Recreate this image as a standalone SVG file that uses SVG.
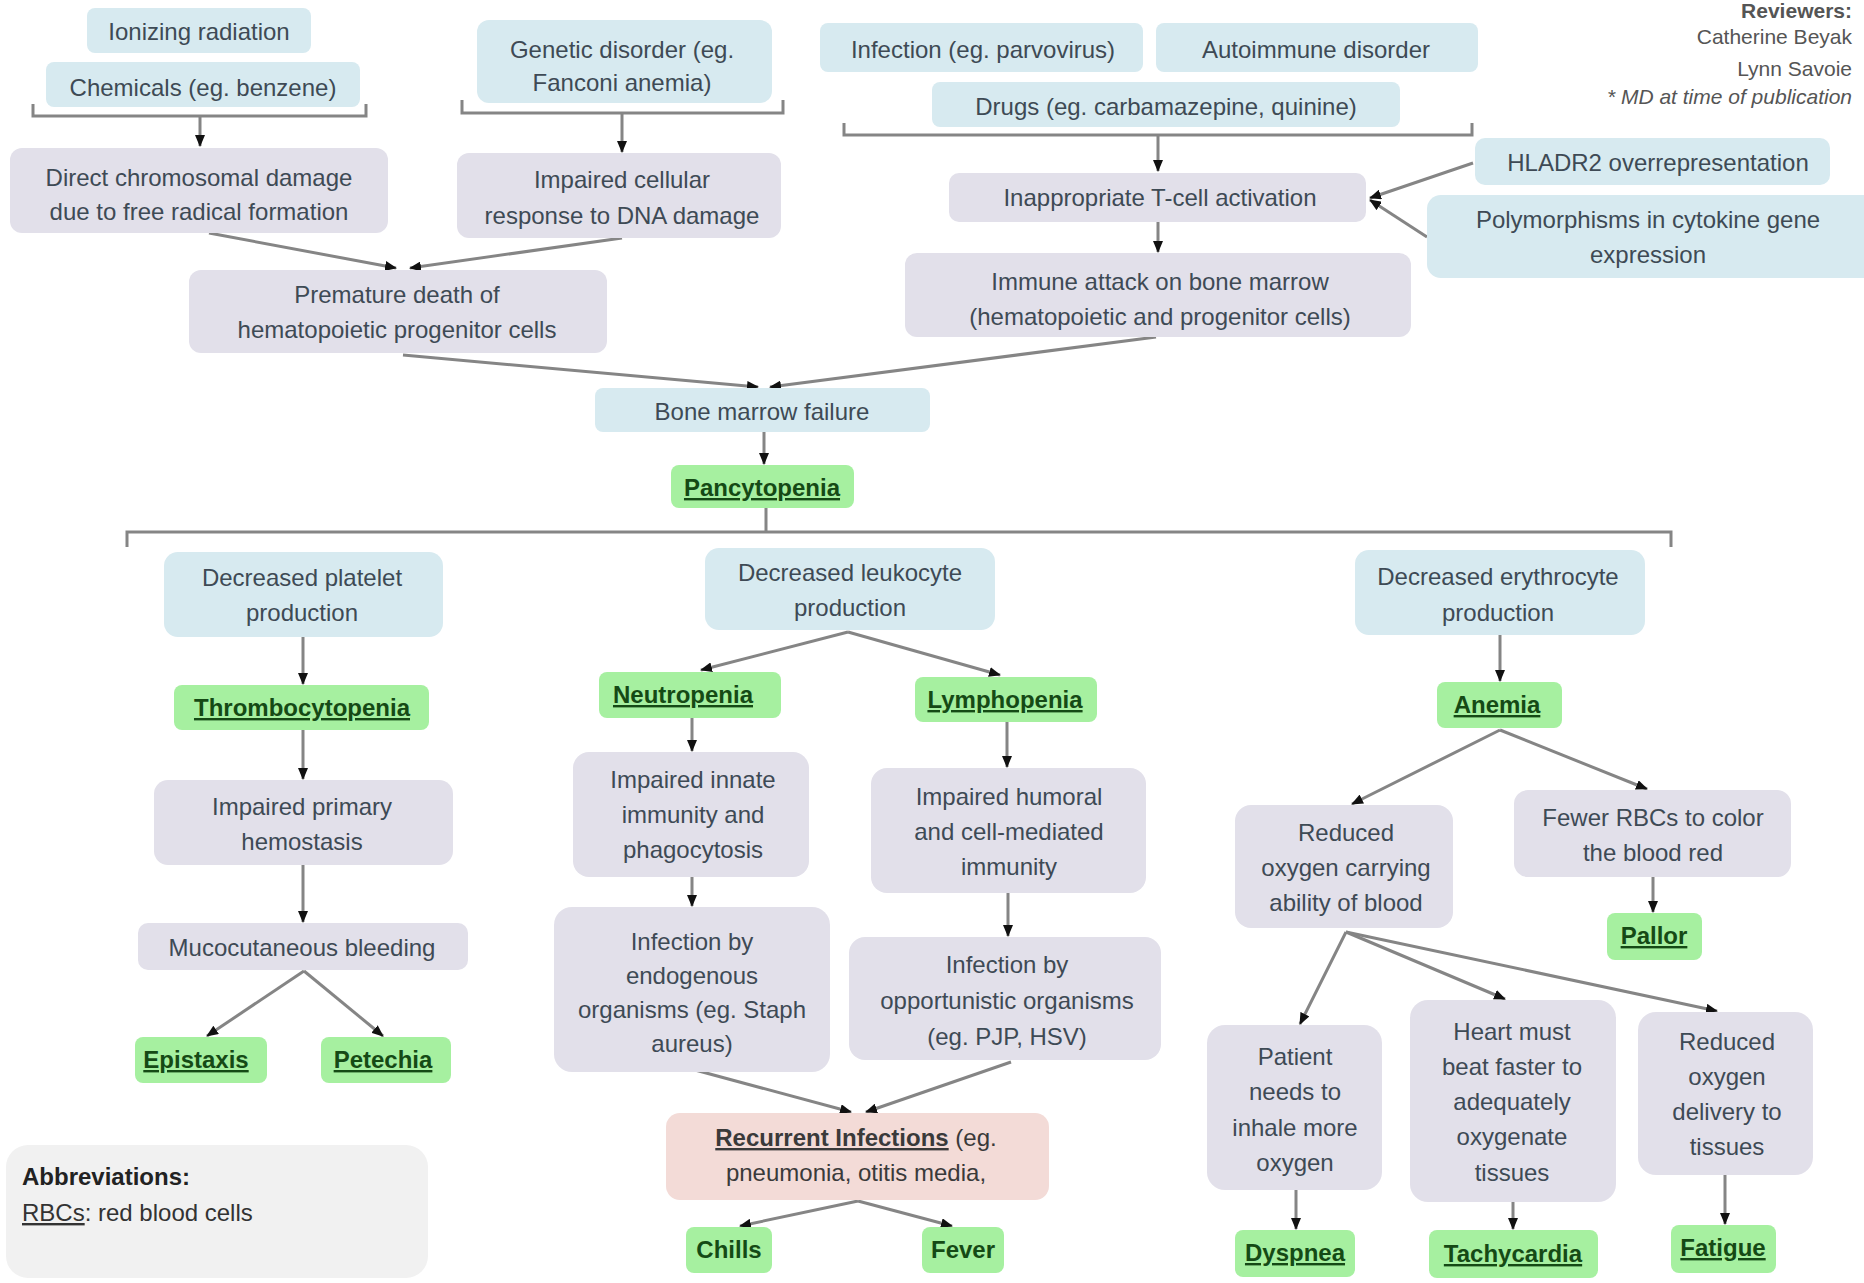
<svg xmlns="http://www.w3.org/2000/svg" width="1864" height="1283" viewBox="0 0 1864 1283">
<style>
text{font-family:"Liberation Sans",Arial,sans-serif;font-size:24px;text-anchor:middle;fill:#3e4a55}
.b rect{fill:#d7eaf0}
.p rect{fill:#e2e0ea}
.g rect{fill:#a6f0a0}
.k rect{fill:#f3dbd7}
.g text{font-weight:bold;fill:#154a15;text-decoration:underline}
.g text.nu{text-decoration:none}
.conn path{fill:none;stroke:#858585;stroke-width:3}
.conn .a{marker-end:url(#ah)}
.rev{font-size:21px;text-anchor:end;fill:#555}
</style>
<defs>
<marker id="ah" markerUnits="userSpaceOnUse" markerWidth="12" markerHeight="10" refX="11" refY="5" orient="auto">
<path d="M0,0 L12,5 L0,10 z" fill="#111"/>
</marker>
</defs>
<rect width="1864" height="1283" fill="#ffffff"/>

<g id="reviewers">
<text class="rev" x="1852" y="18" font-weight="bold">Reviewers:</text>
<text class="rev" x="1852" y="44">Catherine Beyak</text>
<text class="rev" x="1852" y="76">Lynn Savoie</text>
<text class="rev" x="1852" y="104" font-style="italic">* MD at time of publication</text>
</g>

<g class="conn" id="connectors">
<path d="M33 104 V116 H366 V104"/>
<path class="a" d="M200 116 V146"/>
<path d="M462 100 V113 H783 V100"/>
<path class="a" d="M622 113 V152"/>
<path d="M844 123 V135 H1472 V123"/>
<path class="a" d="M1158 135 V171"/>
<path class="a" d="M209 233 L396 268"/>
<path class="a" d="M622 238 L410 268"/>
<path class="a" d="M1473 163 L1370 198"/>
<path class="a" d="M1427 237 L1370 200"/>
<path class="a" d="M1158 222 V252"/>
<path class="a" d="M403 355 L758 387"/>
<path class="a" d="M1156 337 L770 387"/>
<path class="a" d="M764 432 V464"/>
<path d="M127 547 V532 H1671 V547"/>
<path d="M766 508 V532"/>
<path class="a" d="M303 637 V684"/>
<path class="a" d="M303 730 V779"/>
<path class="a" d="M303 865 V922"/>
<path class="a" d="M304 971 L207 1036"/>
<path class="a" d="M304 971 L383 1036"/>
<path class="a" d="M848 632 L701 670"/>
<path class="a" d="M848 632 L1000 675"/>
<path class="a" d="M692 718 V751"/>
<path class="a" d="M1007 722 V767"/>
<path class="a" d="M692 877 V906"/>
<path class="a" d="M1008 893 V936"/>
<path class="a" d="M695 1070 L851 1112"/>
<path class="a" d="M1011 1062 L866 1112"/>
<path class="a" d="M858 1201 L740 1226"/>
<path class="a" d="M858 1201 L952 1226"/>
<path class="a" d="M1500 635 V681"/>
<path class="a" d="M1500 730 L1352 804"/>
<path class="a" d="M1500 730 L1647 789"/>
<path class="a" d="M1653 877 V912"/>
<path class="a" d="M1346 932 L1300 1024"/>
<path class="a" d="M1346 932 L1505 999"/>
<path class="a" d="M1346 932 L1717 1011"/>
<path class="a" d="M1296 1190 V1229"/>
<path class="a" d="M1513 1202 V1229"/>
<path class="a" d="M1725 1175 V1224"/>
</g>

<g id="n1" class="b"><rect x="87" y="8" width="224" height="45" rx="8"/><text x="199" y="40">Ionizing radiation</text></g>
<g id="n2" class="b"><rect x="46" y="62" width="314" height="45" rx="8"/><text x="203" y="96">Chemicals (eg. benzene)</text></g>
<g id="n3" class="p"><rect x="10" y="148" width="378" height="85" rx="12"/><text x="199" y="186">Direct chromosomal damage</text><text x="199" y="220">due to free radical formation</text></g>
<g id="n4" class="b"><rect x="477" y="20" width="295" height="83" rx="12"/><text x="622" y="58">Genetic disorder (eg.</text><text x="622" y="91">Fanconi anemia)</text></g>
<g id="n5" class="p"><rect x="457" y="153" width="324" height="85" rx="12"/><text x="622" y="188">Impaired cellular</text><text x="622" y="224">response to DNA damage</text></g>
<g id="n6" class="p"><rect x="189" y="270" width="418" height="83" rx="12"/><text x="397" y="303">Premature death of</text><text x="397" y="338">hematopoietic progenitor cells</text></g>
<g id="n7" class="b"><rect x="820" y="23" width="323" height="49" rx="8"/><text x="983" y="58">Infection (eg. parvovirus)</text></g>
<g id="n8" class="b"><rect x="1156" y="23" width="322" height="49" rx="8"/><text x="1316" y="58">Autoimmune disorder</text></g>
<g id="n9" class="b"><rect x="932" y="82" width="468" height="45" rx="8"/><text x="1166" y="115">Drugs (eg. carbamazepine, quinine)</text></g>
<g id="n10" class="p"><rect x="949" y="173" width="417" height="49" rx="10"/><text x="1160" y="206">Inappropriate T-cell activation</text></g>
<g id="n11" class="b"><rect x="1475" y="138" width="355" height="47" rx="10"/><text x="1658" y="171">HLADR2 overrepresentation</text></g>
<g id="n12" class="b"><rect x="1427" y="195" width="450" height="83" rx="14"/><text x="1648" y="228">Polymorphisms in cytokine gene</text><text x="1648" y="263">expression</text></g>
<g id="n13" class="p"><rect x="905" y="253" width="506" height="84" rx="12"/><text x="1160" y="290">Immune attack on bone marrow</text><text x="1160" y="325">(hematopoietic and progenitor cells)</text></g>
<g id="n14" class="b"><rect x="595" y="388" width="335" height="44" rx="8"/><text x="762" y="420">Bone marrow failure</text></g>
<g id="n15" class="g"><rect x="671" y="465" width="183" height="43" rx="8"/><text x="762" y="496">Pancytopenia</text></g>

<g id="n16" class="b"><rect x="164" y="552" width="279" height="85" rx="14"/><text x="302" y="586">Decreased platelet</text><text x="302" y="621">production</text></g>
<g id="n17" class="g"><rect x="174" y="685" width="255" height="45" rx="8"/><text x="302" y="716">Thrombocytopenia</text></g>
<g id="n18" class="p"><rect x="154" y="780" width="299" height="85" rx="14"/><text x="302" y="815">Impaired primary</text><text x="302" y="850">hemostasis</text></g>
<g id="n19" class="p"><rect x="138" y="923" width="330" height="47" rx="10"/><text x="302" y="956">Mucocutaneous bleeding</text></g>
<g id="n20" class="g"><rect x="135" y="1037" width="132" height="46" rx="8"/><text x="196" y="1068">Epistaxis</text></g>
<g id="n21" class="g"><rect x="321" y="1037" width="130" height="46" rx="8"/><text x="383" y="1068">Petechia</text></g>

<g id="n22" class="b"><rect x="705" y="548" width="290" height="82" rx="14"/><text x="850" y="581">Decreased leukocyte</text><text x="850" y="616">production</text></g>
<g id="n23" class="g"><rect x="599" y="672" width="182" height="46" rx="8"/><text x="683" y="703">Neutropenia</text></g>
<g id="n24" class="g"><rect x="915" y="677" width="182" height="45" rx="8"/><text x="1005" y="708">Lymphopenia</text></g>
<g id="n25" class="p"><rect x="573" y="752" width="236" height="125" rx="16"/><text x="693" y="788">Impaired innate</text><text x="693" y="823">immunity and</text><text x="693" y="858">phagocytosis</text></g>
<g id="n26" class="p"><rect x="871" y="768" width="275" height="125" rx="16"/><text x="1009" y="805">Impaired humoral</text><text x="1009" y="840">and cell-mediated</text><text x="1009" y="875">immunity</text></g>
<g id="n27" class="p"><rect x="554" y="907" width="276" height="165" rx="18"/><text x="692" y="950">Infection by</text><text x="692" y="984">endogenous</text><text x="692" y="1018">organisms (eg. Staph</text><text x="692" y="1052">aureus)</text></g>
<g id="n28" class="p"><rect x="849" y="937" width="312" height="123" rx="16"/><text x="1007" y="973">Infection by</text><text x="1007" y="1009">opportunistic organisms</text><text x="1007" y="1045">(eg. PJP, HSV)</text></g>
<g id="n29" class="k"><rect x="666" y="1113" width="383" height="87" rx="14"/><text x="856" y="1146" style="fill:#3a3a3a"><tspan font-weight="bold" text-decoration="underline">Recurrent Infections</tspan> (eg.</text><text x="856" y="1181" style="fill:#3a3a3a">pneumonia, otitis media,</text></g>
<g id="n30" class="g"><rect x="686" y="1227" width="86" height="46" rx="8"/><text class="nu" x="729" y="1258">Chills</text></g>
<g id="n31" class="g"><rect x="922" y="1227" width="82" height="46" rx="8"/><text class="nu" x="963" y="1258">Fever</text></g>

<g id="n32" class="b"><rect x="1355" y="550" width="290" height="85" rx="14"/><text x="1498" y="585">Decreased erythrocyte</text><text x="1498" y="621">production</text></g>
<g id="n33" class="g"><rect x="1437" y="682" width="125" height="46" rx="8"/><text x="1497" y="713">Anemia</text></g>
<g id="n34" class="p"><rect x="1235" y="805" width="218" height="123" rx="16"/><text x="1346" y="841">Reduced</text><text x="1346" y="876">oxygen carrying</text><text x="1346" y="911">ability of blood</text></g>
<g id="n35" class="p"><rect x="1514" y="790" width="277" height="87" rx="14"/><text x="1653" y="826">Fewer RBCs to color</text><text x="1653" y="861">the blood red</text></g>
<g id="n36" class="g"><rect x="1607" y="913" width="95" height="47" rx="8"/><text x="1654" y="944">Pallor</text></g>
<g id="n37" class="p"><rect x="1207" y="1025" width="175" height="165" rx="18"/><text x="1295" y="1065">Patient</text><text x="1295" y="1100">needs to</text><text x="1295" y="1136">inhale more</text><text x="1295" y="1171">oxygen</text></g>
<g id="n38" class="p"><rect x="1410" y="1000" width="206" height="202" rx="18"/><text x="1512" y="1040">Heart must</text><text x="1512" y="1075">beat faster to</text><text x="1512" y="1110">adequately</text><text x="1512" y="1145">oxygenate</text><text x="1512" y="1181">tissues</text></g>
<g id="n39" class="p"><rect x="1638" y="1012" width="175" height="163" rx="18"/><text x="1727" y="1050">Reduced</text><text x="1727" y="1085">oxygen</text><text x="1727" y="1120">delivery to</text><text x="1727" y="1155">tissues</text></g>
<g id="n40" class="g"><rect x="1235" y="1230" width="120" height="47" rx="8"/><text x="1295" y="1261">Dyspnea</text></g>
<g id="n41" class="g"><rect x="1429" y="1230" width="169" height="48" rx="8"/><text x="1513" y="1262">Tachycardia</text></g>
<g id="n42" class="g"><rect x="1671" y="1225" width="105" height="48" rx="8"/><text x="1723" y="1256">Fatigue</text></g>

<g id="abbrev"><rect x="6" y="1145" width="422" height="133" rx="22" fill="#f1f1f1"/><text x="22" y="1185" style="text-anchor:start;font-weight:bold;fill:#222">Abbreviations:</text><text x="22" y="1221" style="text-anchor:start;fill:#333"><tspan text-decoration="underline">RBCs</tspan>: red blood cells</text></g>
</svg>
